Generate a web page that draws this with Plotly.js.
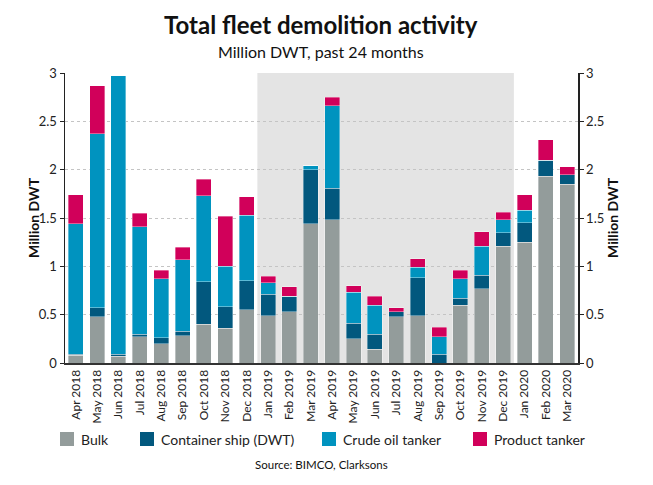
<!DOCTYPE html>
<html>
<head>
<meta charset="utf-8">
<script src="https://cdn.plot.ly/plotly-3.0.1.min.js"></script>
<style>html,body{margin:0;padding:0;background:#fff;}#chart{width:653px;height:485px;}</style>
</head>
<body>
<div id="chart"></div>
<script>
var months = ["Apr 2018","May 2018","Jun 2018","Jul 2018","Aug 2018","Sep 2018","Oct 2018","Nov 2018","Dec 2018",
  "Jan 2019","Feb 2019","Mar 2019","Apr 2019","May 2019","Jun 2019","Jul 2019","Aug 2019","Sep 2019","Oct 2019","Nov 2019","Dec 2019",
  "Jan 2020","Feb 2020","Mar 2020"];
var bulk      = [0.08,0.48,0.07,0.27,0.20,0.28,0.40,0.36,0.55, 0.49,0.53,1.44,1.48,0.25,0.14,0.48,0.49,0.00,0.60,0.77,1.21, 1.25,1.93,1.85];
var container = [0.01,0.09,0.02,0.03,0.06,0.05,0.44,0.22,0.30, 0.22,0.16,0.56,0.33,0.16,0.16,0.05,0.39,0.09,0.07,0.14,0.14, 0.20,0.17,0.10];
var crude     = [1.35,1.80,2.88,1.11,0.61,0.74,0.89,0.42,0.68, 0.12,0.00,0.04,0.85,0.32,0.30,0.00,0.11,0.18,0.20,0.30,0.13, 0.13,0.00,0.00];
var product   = [0.30,0.50,0.00,0.14,0.09,0.13,0.17,0.52,0.19, 0.07,0.10,0.00,0.09,0.07,0.09,0.04,0.09,0.10,0.09,0.15,0.08, 0.16,0.21,0.08];
var seriesNames = ["Bulk","Container ship (DWT)","Crude oil tanker","Product tanker"];
var seriesColors = ["#939c9b","#02587e","#0093bf","#d1005a"];
var shadeStart = "Jan 2019", shadeEnd = "Dec 2019";

var FONT = "Lato, 'Open Sans', sans-serif";
var W = 653, H = 485, ML = 65, MR = 75, MT = 73, MB = 122;
var PW = W - ML - MR, PH = H - MT - MB;
function px(x){ return (x - ML) / PW; }
function py(y){ return (H - MB - y) / PH; }

var edge = {color:"rgba(255,255,255,0.6)", width:0.6};
var values = [bulk, container, crude, product];
var data = values.map(function(v, k){
  return {type:"bar", name:seriesNames[k], x:months, y:v, marker:{color:seriesColors[k], line:edge}, showlegend:false};
});
data.push({type:"scatter", mode:"none", x:months, y:bulk, yaxis:"y2", showlegend:false, hoverinfo:"skip"});

var i0 = months.indexOf(shadeStart), i1 = months.indexOf(shadeEnd);
var axisCommon = {
  range:[0,3], dtick:0.5, tick0:0, showgrid:true, gridcolor:"#c4c4c4", griddash:"dot", gridwidth:1,
  showline:true, linecolor:"#222", linewidth:1.5, ticks:"outside", ticklen:4, tickcolor:"#222",
  tickfont:{family:FONT, size:13, color:"#222"}, zeroline:false, fixedrange:true, automargin:false
};

var shapes = [{type:"rect", xref:"x", yref:"y", x0:i0-0.5, x1:i1+0.5, y0:0, y1:3, fillcolor:"#e4e4e4", line:{width:0}, layer:"below"}];
var annotations = [
  {text:"<b>Total fleet demolition activity</b>", xref:"paper", yref:"paper", x:px(321), y:py(25), xanchor:"center", yanchor:"middle", showarrow:false,
    font:{family:FONT, size:24, color:"#111"}},
  {text:"Million DWT, past 24 months", xref:"paper", yref:"paper", x:px(321), y:py(51), xanchor:"center", yanchor:"middle", showarrow:false,
    font:{family:FONT, size:16, color:"#111"}},
  {text:"Source: BIMCO, Clarksons", xref:"paper", yref:"paper", x:px(321), y:py(464), xanchor:"center", yanchor:"middle", showarrow:false,
    font:{family:FONT, size:11.5, color:"#111"}},
  {text:"<b>Million DWT</b>", xref:"paper", yref:"paper", x:px(33), y:py(218), xanchor:"center", yanchor:"middle", showarrow:false, textangle:-90,
    font:{family:FONT, size:14, color:"#111"}},
  {text:"<b>Million DWT</b>", xref:"paper", yref:"paper", x:px(612), y:py(218), xanchor:"center", yanchor:"middle", showarrow:false, textangle:-90,
    font:{family:FONT, size:14, color:"#111"}}
];
// manual legend
var legendX = [60, 140, 322, 473];
for (var k = 0; k < seriesNames.length; k++) {
  shapes.push({type:"rect", xref:"paper", yref:"paper", x0:px(legendX[k]), x1:px(legendX[k]+14), y0:py(446), y1:py(432),
    fillcolor:seriesColors[k], line:{width:0}});
  annotations.push({text:seriesNames[k], xref:"paper", yref:"paper", x:px(legendX[k]+19), y:py(439), xanchor:"left", yanchor:"middle",
    showarrow:false, font:{family:FONT, size:14, color:"#222"}});
}

var layout = {
  width:W, height:H,
  margin:{l:ML, r:MR, t:MT, b:MB},
  paper_bgcolor:"#fff", plot_bgcolor:"rgba(0,0,0,0)",
  barmode:"stack", bargap:0.3, showlegend:false,
  xaxis:{type:"category", range:[-0.5, months.length-0.5], tickangle:-90, tickfont:{family:FONT, size:12, color:"#222"},
    showline:true, linecolor:"#333", linewidth:2, ticks:"", showgrid:false, fixedrange:true, automargin:false},
  yaxis:Object.assign({}, axisCommon),
  yaxis2:Object.assign({}, axisCommon, {overlaying:"y", side:"right", showgrid:false}),
  shapes:shapes,
  annotations:annotations
};
Plotly.newPlot("chart", data, layout, {displayModeBar:false, staticPlot:true});
</script>
</body>
</html>
